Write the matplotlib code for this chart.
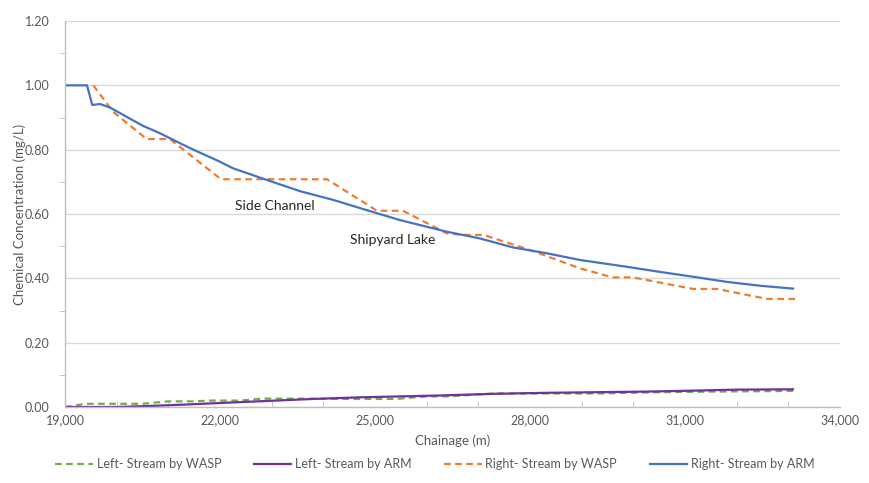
import matplotlib
matplotlib.use("Agg")
import matplotlib.pyplot as plt
from matplotlib.ticker import MultipleLocator, FuncFormatter

plt.rcParams['font.family'] = ['Lato', 'DejaVu Sans']

# Right stream (main channel) - ARM model
right_arm_x = [19000, 19426, 19528, 19677, 19871, 20194, 20510, 20839, 21162, 21483,
               21967, 22252, 22904, 23548, 24187, 24839, 25484, 26388, 27032, 27671,
               28323, 28968, 29871, 30516, 31155, 31807, 32452, 33090]
right_arm_y = [1.000, 1.000, 0.939, 0.942, 0.931, 0.902, 0.874, 0.851, 0.825, 0.800,
               0.765, 0.742, 0.706, 0.671, 0.644, 0.612, 0.581, 0.545, 0.524, 0.496,
               0.478, 0.457, 0.436, 0.420, 0.405, 0.389, 0.377, 0.368]

# Right stream - WASP model
right_wasp_x = [19548, 19929, 20581, 21032, 22019, 24071, 25039, 25542, 26388, 26700,
                27100, 28000, 28968, 29600, 29990, 31155, 31620, 32587, 33168]
right_wasp_y = [1.000, 0.918, 0.833, 0.833, 0.708, 0.708, 0.610, 0.610, 0.540, 0.535,
                0.535, 0.488, 0.431, 0.403, 0.403, 0.367, 0.367, 0.336, 0.336]

# Left stream - ARM model
left_arm_x = [19000, 20000, 20600, 21400, 22000, 22800, 23800, 24700, 25500, 26300,
              27300, 28300, 29300, 30300, 31200, 32000, 33090]
left_arm_y = [0.000, 0.000, 0.003, 0.008, 0.0125, 0.018, 0.025, 0.030, 0.033, 0.036,
              0.041, 0.044, 0.046, 0.048, 0.051, 0.054, 0.055]

# Left stream - WASP model
left_wasp_x = [19000, 19135, 19390, 19580, 20490, 20700, 21000, 21500, 21800, 22400,
               22800, 23600, 24500, 25400, 26000, 26400, 27300, 28200, 29300, 30500,
               31600, 33090]
left_wasp_y = [0.000, 0.003, 0.010, 0.010, 0.010, 0.013, 0.0175, 0.0175, 0.020, 0.020,
               0.026, 0.026, 0.025, 0.025, 0.033, 0.033, 0.042, 0.042, 0.042, 0.046,
               0.048, 0.050]

x_ticks = [19000, 22000, 25000, 28000, 31000, 34000]
y_ticks = [0.0, 0.2, 0.4, 0.6, 0.8, 1.0, 1.2]

c_green = '#70AD47'
c_purple = '#7030A0'
c_orange = '#ED7D31'
c_blue = '#4472C4'
text_gray = '#595959'
axis_gray = '#BFBFBF'
grid_gray = '#D9D9D9'

fig = plt.figure(figsize=(8.7, 4.83), dpi=100)
ax = fig.add_axes([65 / 870, 1 - 407 / 483, 775 / 870, 386 / 483])

lw = 1.6
ax.plot(left_wasp_x, left_wasp_y, color=c_green, lw=lw, dashes=(3, 2),
        label='Left- Stream by WASP')
ax.plot(left_arm_x, left_arm_y, color=c_purple, lw=lw, label='Left- Stream by ARM')
ax.plot(right_wasp_x, right_wasp_y, color=c_orange, lw=lw, dashes=(3, 2),
        label='Right- Stream by WASP')
ax.plot(right_arm_x, right_arm_y, color=c_blue, lw=lw, label='Right- Stream by ARM')

ax.set_xlim(19000, 34000)
ax.set_ylim(0, 1.2)
ax.set_xticks(x_ticks)
ax.set_yticks(y_ticks)
ax.xaxis.set_minor_locator(MultipleLocator(1000))
ax.yaxis.set_minor_locator(MultipleLocator(0.1))
ax.xaxis.set_major_formatter(FuncFormatter(lambda v, p: f'{int(v):,}'))
ax.yaxis.set_major_formatter(FuncFormatter(lambda v, p: f'{v:.2f}'))

ax.grid(axis='y', which='major', color=grid_gray, lw=1)
ax.set_axisbelow(True)
for s in ['top', 'right']:
    ax.spines[s].set_visible(False)
for s in ['left', 'bottom']:
    ax.spines[s].set_color(axis_gray)
    ax.spines[s].set_linewidth(1)

ax.tick_params(axis='x', which='both', direction='in', length=4, color=axis_gray,
               labelsize=9, labelcolor=text_gray, pad=5)
ax.tick_params(axis='x', which='major', length=0)
ax.tick_params(axis='y', which='both', direction='out', length=4, color=axis_gray,
               labelsize=9, labelcolor=text_gray, pad=11)
ax.tick_params(axis='y', which='major', length=0)

ax.set_xlabel('Chainage (m)', fontsize=9.5, color=text_gray, labelpad=6)
ax.set_ylabel('Chemical Concentration (mg/L)', fontsize=9.5, color=text_gray, labelpad=-1)

ax.text(23060, 0.625, 'Side Channel', fontsize=10, color='#262626', ha='center', va='center')
ax.text(25350, 0.518, 'Shipyard Lake', fontsize=10, color='#262626', ha='center', va='center')

leg = fig.legend(loc='center', bbox_to_anchor=(0.5, 1 - 464 / 483), ncol=4, frameon=False,
                 fontsize=9, handlelength=3.0, columnspacing=2.6, handletextpad=0.3)
for t in leg.get_texts():
    t.set_color(text_gray)

fig.savefig('out.png', dpi=100)
